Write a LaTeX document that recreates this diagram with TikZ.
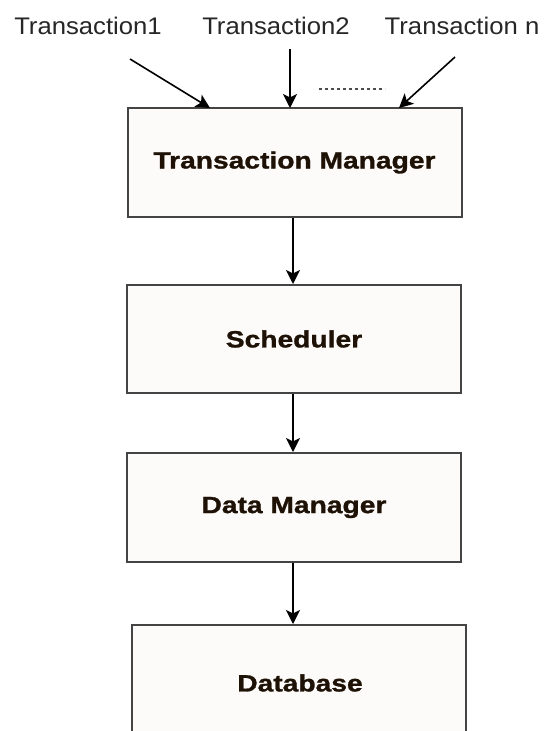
\documentclass[tikz,border=0pt]{standalone}
\usepackage{fontspec}
\setmainfont{Liberation Sans}
\newfontfamily\labfont[FakeStretch=1.07]{Liberation Sans}
\newfontfamily\boxfont[FakeStretch=1.2,FakeBold=1.2]{Liberation Sans Bold}
\usetikzlibrary{arrows.meta,calc}
\definecolor{boxfill}{HTML}{FDFBFA}
\definecolor{boxline}{HTML}{444444}
\definecolor{boxtext}{HTML}{1E1206}
\begin{document}
\begin{tikzpicture}[x=1pt,y=-1pt,
  stage/.style={draw=boxline,line width=2pt,fill=boxfill,minimum width=334pt,
    inner sep=0pt,text=boxtext,font=\boxfont\fontsize{23.5}{28}\selectfont},
  txlabel/.style={inner sep=0pt,text=black!85,font=\labfont\fontsize{24}{28}\selectfont},
  arr/.style={line width=1.6pt,-{Stealth[length=14pt,width=14pt,inset=3.5pt]}}]
  \useasboundingbox (0,0) rectangle (544,731);

  % transaction labels
  \node[txlabel] (t1) at (88,26) {Transaction1};
  \node[txlabel] (t2) at (276,26) {Transaction2};
  \node[txlabel] (tn) at (462,26) {Transaction n};

  % stacked stages
  \node[stage,minimum height=109pt] (tm) at (294.5,162.5) {Transaction Manager};
  \node[stage,minimum height=108pt] (sch) at (294,339) {Scheduler};
  \node[stage,minimum height=109pt] (dm) at (294,507.5) {Data Manager};
  \node[stage,minimum height=124pt] (db) at (298.5,687) {};
  \node[inner sep=0pt,text=boxtext,font=\boxfont\fontsize{23.5}{28}\selectfont]
    (dbl) at (300,683) {Database};

  % incoming transactions
  \coordinate (s1) at (130,59);
  \coordinate (s2) at (290,49);
  \coordinate (sn) at (455,57);
  \coordinate (e1) at (210,108);
  \coordinate (e2) at (290,108);
  \coordinate (en) at (399,108);
  \draw[arr] (s1) -- (e1);
  \draw[arr] (s2) -- (e2);
  \draw[arr] (sn) -- (en);
  \draw[line width=1.4pt,black!70,dash pattern=on 3pt off 3pt] (319,89) -- (385,89);

  % flow between stages
  \coordinate (x) at (293,0);
  \draw[arr] (tm.south -| x) -- (sch.north -| x);
  \draw[arr] (sch.south -| x) -- (dm.north -| x);
  \draw[arr] (dm.south -| x) -- (db.north -| x);
\end{tikzpicture}
\end{document}
